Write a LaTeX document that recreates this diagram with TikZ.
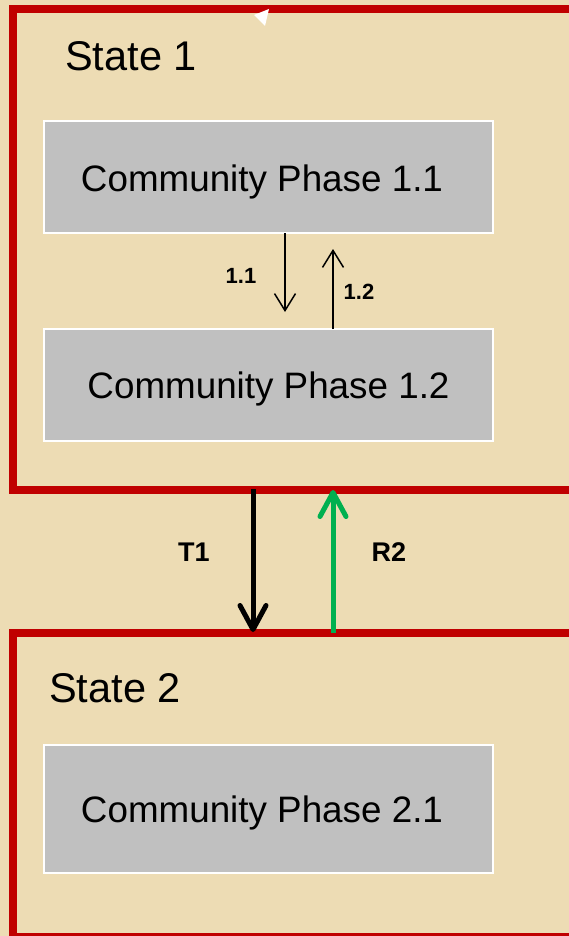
\documentclass[tikz,border=0pt]{standalone}
\usepackage{fontspec}
\setmainfont{Liberation Sans}
\usetikzlibrary{arrows.meta}
\definecolor{parch}{RGB}{237,220,180}
\definecolor{framered}{RGB}{192,0,0}
\definecolor{phasegray}{RGB}{192,192,192}
\definecolor{rgreen}{RGB}{0,176,80}
\tikzset{
  stateframe/.style={draw=framered, line width=8pt},
  phasebox/.style={fill=phasegray, draw=white, line width=2pt, minimum width=449pt, minimum height=112pt, inner sep=0pt},
  phasetext/.style={anchor=base, inner sep=0pt, font=\fontsize{36.8}{40}\selectfont},
  statelabel/.style={anchor=base west, inner sep=0pt, font=\fontsize{41.5}{46}\selectfont},
  smalllabel/.style={inner sep=0pt, font=\bfseries\fontsize{22}{24}\selectfont},
  biglabel/.style={inner sep=0pt, font=\bfseries\fontsize{27}{30}\selectfont},
  thinarrow/.style={line width=1.5pt, -{Straight Barb[length=17pt,width=21pt,line width=1.5pt]}},
  thickarrow/.style={line width=5pt, -{Straight Barb[round,length=24pt,width=26pt,line width=5pt]}}
}
\begin{document}
\begin{tikzpicture}[x=1pt,y=-1pt]
\useasboundingbox (0,0) rectangle (569,936);
\clip (0,0) rectangle (569,936);
\fill[parch] (0,0) rectangle (569,936);
% state frames
\draw[stateframe] (13,9) rectangle (620,490);
\draw[stateframe] (13,633) rectangle (620,937);
% small white triangle
\fill[white] (269,9) -- (254,15) -- (265,26) -- cycle;
% labels
\node[statelabel] (s1) at (65,71) {State 1};
\node[statelabel] (s2) at (49,702) {State 2};
% phase boxes
\node[phasebox] (p11) at (268.5,177) {};
\node[phasebox] (p12) at (268.5,385) {};
\node[phasebox, minimum height=128pt] (p21) at (268.5,809) {};
\node[phasetext] (t11) at (262,191) {Community Phase 1.1};
\node[phasetext] (t12) at (268.5,398) {Community Phase 1.2};
\node[phasetext] (t21) at (262,822) {Community Phase 2.1};
% thin arrows
\coordinate (a11s) at (285,233);
\coordinate (a11e) at (285,312);
\coordinate (a12s) at (333,329);
\coordinate (a12e) at (333,249);
\draw[thinarrow] (a11s) -- (a11e);
\draw[thinarrow] (a12s) -- (a12e);
\node[smalllabel] (l11) at (241,276) {1.1};
\node[smalllabel] (l12) at (359,292) {1.2};
% state transitions
\coordinate (t1s) at (253,489);
\coordinate (t1e) at (253,632);
\coordinate (r2s) at (333,633);
\coordinate (r2e) at (333,490);
\draw[thickarrow] (t1s) -- (t1e);
\draw[thickarrow, draw=rgreen] (r2s) -- (r2e);
\node[biglabel] (lt1) at (194,552) {T1};
\node[biglabel] (lr2) at (389,552) {R2};
\end{tikzpicture}
\end{document}
